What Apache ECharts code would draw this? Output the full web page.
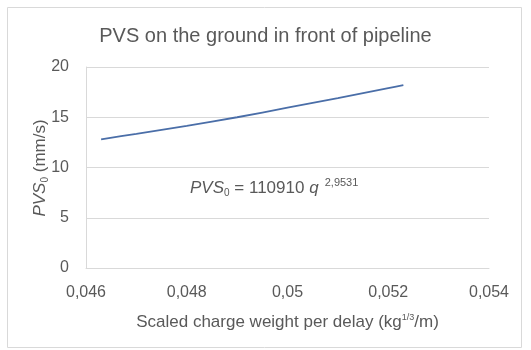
<!DOCTYPE html>
<html><head><meta charset="utf-8">
<script src="https://cdn.jsdelivr.net/npm/echarts@6/dist/echarts.min.js"></script>
<style>html,body{margin:0;padding:0;background:#fff}#c{width:531px;height:350px}</style>
</head><body><div id="c"></div>
<script>
var xValues = [0.0463, 0.0470, 0.0480, 0.0490, 0.0500, 0.0510, 0.0520, 0.0523];
var pvsValues = [12.8, 13.35, 14.15, 15.0, 15.95, 16.9, 17.9, 18.2];
var yTicks = [0, 5, 10, 15, 20];
var xTicks = [0.046, 0.048, 0.05, 0.052, 0.054];

var chart = echarts.init(document.getElementById('c'));
var txt = '#595959';
var ff = 'Liberation Sans, Arial, sans-serif';
chart.setOption({
  animation: false,
  title: {
    text: 'PVS on the ground in front of pipeline',
    left: 'center', top: 21,
    textStyle: {fontSize: 20, fontWeight: 'normal', color: txt, fontFamily: ff}
  },
  graphic: [
    {type: 'rect', shape: {x: 7.5, y: 7.5, width: 514, height: 340},
     style: {fill: 'none', stroke: '#d9d9d9', lineWidth: 1}, silent: true},
    {type: 'text', left: 190, top: 177,
     style: {
       text: '{i|PVS}{sub|0}{n| = 110910 }{i|q}{sup|  2,9531}',
       rich: {
         i: {fontStyle: 'italic', fontSize: 17, fill: txt, fontFamily: ff},
         n: {fontSize: 17, fill: txt, fontFamily: ff},
         sub: {fontSize: 10, fill: txt, fontFamily: ff, padding: [10, 0, 0, 0]},
         sup: {fontSize: 11, fill: txt, fontFamily: ff, padding: [0, 0, 12, 0]}
       }
     }},
    {type: 'text', x: 40, y: 168, rotation: Math.PI / 2,
     style: {
       text: '{i|PVS}{sub|0}{n| (mm/s)}',
       align: 'center', verticalAlign: 'middle',
       rich: {
         i: {fontStyle: 'italic', fontSize: 17, fill: txt, fontFamily: ff},
         n: {fontSize: 17, fill: txt, fontFamily: ff},
         sub: {fontSize: 10, fill: txt, fontFamily: ff, padding: [10, 0, 0, 0]}
       }
     }}
  ],
  grid: {left: 86, right: 42, top: 67, bottom: 82},
  xAxis: {
    type: 'value', min: xTicks[0], max: xTicks[xTicks.length - 1], interval: 0.002,
    axisLine: {show: true, lineStyle: {color: '#d9d9d9'}},
    axisTick: {show: false},
    splitLine: {show: false},
    axisLabel: {color: txt, fontSize: 16, fontFamily: ff, margin: 17,
      formatter: function (v) { return String(+v.toFixed(3)).replace('.', ','); }},
    name: '{n|Scaled charge weight per delay (kg}{s|1/3}{n|/m)}',
    nameLocation: 'middle', nameGap: 45,
    nameTextStyle: {
      rich: {
        n: {fontSize: 17, color: txt, fontFamily: ff},
        s: {fontSize: 9, color: txt, fontFamily: ff, padding: [0, 0, 10, 0]}
      }
    }
  },
  yAxis: {
    type: 'value', min: 0, max: 20, interval: 5,
    axisLine: {show: true, lineStyle: {color: '#d9d9d9'}},
    axisTick: {show: false},
    splitLine: {show: true, lineStyle: {color: '#d9d9d9'}},
    axisLabel: {color: txt, fontSize: 16, fontFamily: ff, margin: 17,
      formatter: function (v) { return yTicks.indexOf(v) >= 0 ? String(v) : ''; }}
  },
  series: [{
    type: 'line', smooth: 0.3, showSymbol: false,
    data: xValues.map(function (x, i) { return [x, pvsValues[i]]; }),
    lineStyle: {color: '#4a6ea8', width: 1.8}
  }]
});
</script></body></html>
